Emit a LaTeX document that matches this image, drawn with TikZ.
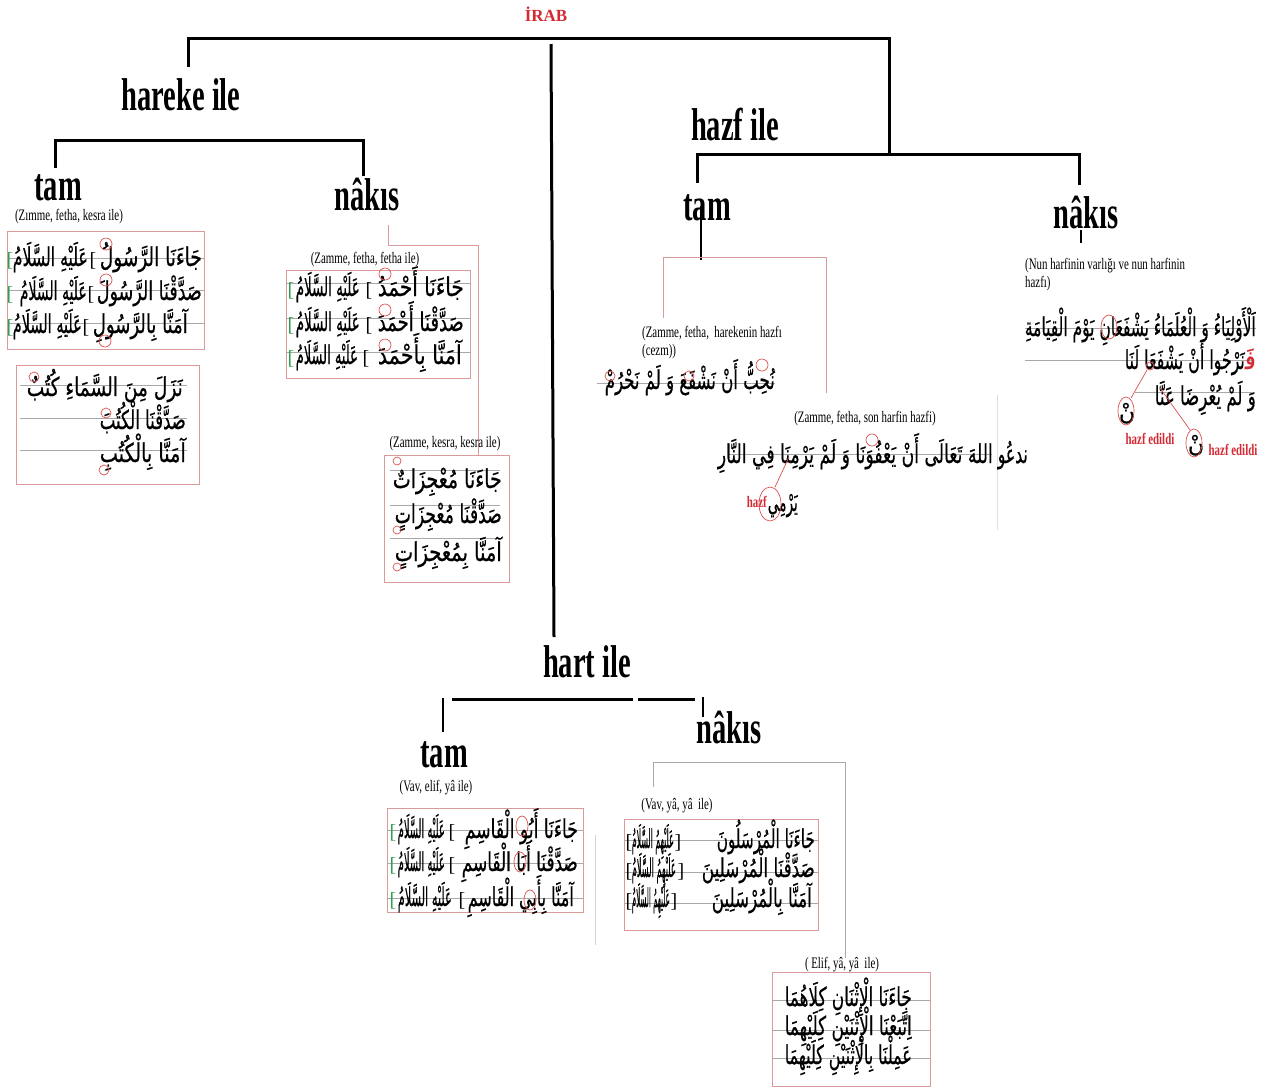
\documentclass[tikz,border=0pt]{standalone}
\usepackage{fontspec}
\usepackage{graphicx}
\TeXXeTstate=1
\setmainfont{Liberation Serif}
\newfontfamily\arabicfont[Script=Arabic, FakeBold=0.6]{DejaVu Sans}
\newfontfamily\condf[FakeStretch=0.68]{Liberation Serif}
\newfontfamily\headf[FakeStretch=0.62]{Liberation Serif}
\definecolor{boxred}{HTML}{DB9A9A}
\definecolor{rulegray}{HTML}{A8A8A8}
\definecolor{brgreen}{HTML}{2E9E4F}
\definecolor{redtxt}{HTML}{D42A34}
\definecolor{circred}{HTML}{D9534F}
\newcommand\arw[2]{\resizebox{#1pt}{\height}{\arabicfont\fontsize{26}{30}\selectfont #2}}
\tikzset{
 tree/.style={line width=3pt, black},
 thinbar/.style={line width=1.8pt, black},
 head/.style={font=\headf\bfseries\fontsize{46}{50}\selectfont, inner sep=0, anchor=base},
 lab/.style={font=\condf\fontsize{16}{18}\selectfont, inner sep=0, anchor=base},
 labl/.style={lab, anchor=base west},
 box/.style={draw=boxred, line width=0.9pt},
 conn/.style={draw=boxred, line width=0.9pt},
 rule/.style={draw=rulegray, line width=0.8pt},
 arn/.style={inner sep=0, anchor=base east},
 brk/.style={inner sep=0, anchor=base, font=\fontsize{20}{22}\selectfont},
 gbrk/.style={brk, text=brgreen},
 circ/.style={draw=circred, line width=0.7pt},
 redlab/.style={font=\condf\bfseries\fontsize{16}{18}\selectfont, text=redtxt, inner sep=0, anchor=base},
}
\begin{document}
\begin{tikzpicture}[x=1pt,y=-1pt]
\useasboundingbox (0,0) rectangle (1269,1088);
\fill[white] (0,0) rectangle (1269,1088);

% ---------- title and tree ----------
\node[font=\bfseries\fontsize{17}{19}\selectfont, text=redtxt, inner sep=0, anchor=base] (irab) at (546,21) {İRAB};
\coordinate (jTL) at (188,38); \coordinate (jTR) at (889,38);
\draw[tree] (188,67) -- (jTL) -- (jTR) -- (889,155);
\draw[tree] (551,44) -- (554,637);

\node[head] (hareke) at (181,110) {hareke ile};
\draw[tree] (55,168) -- (55,140) -- (363,140) -- (363,176);
\node[head] (tamA) at (58,200) {tam};
\node[head] (nakA) at (367,210) {nâkıs};

\node[head] (hazf) at (735,140) {hazf ile};
\draw[tree] (697,183) -- (697,154) -- (1079,154) -- (1079,185);
\node[head] (tamB) at (707,220) {tam};
\draw[line width=2.4pt] (701,206) -- (701,260);
\node[head] (nakB) at (1086,228) {nâkıs};
\draw[line width=1.4pt] (1081,230) -- (1081,243);

\node[head] (hart) at (587,677) {hart ile};
\draw[tree] (452,699) -- (633,699);
\draw[tree] (638,699) -- (695,699);
\draw[thinbar] (443,698) -- (443,732);
\draw[thinbar] (703,697) -- (703,717);
\node[head] (tamC) at (444,767) {tam};
\node[head] (nakC) at (729,743) {nâkıs};

% ---------- connectors to boxes ----------
\draw[conn] (388,225) -- (388,245) -- (478,245) -- (478,455);
\draw[conn] (663,318) -- (663,257) -- (826,257) -- (826,393);
\draw[rule] (653,787) -- (653,762) -- (845,762) -- (845,958);
\draw[gray!25, line width=0.6pt] (997,395) -- (997,530);
\draw[gray!35, line width=0.6pt] (595,835) -- (595,945);

% ---------- labels ----------
\node[lab] (lA) at (69,220) {(Zımme, fetha, kesra ile)};
\node[lab] (lC) at (365,263) {(Zamme, fetha, fetha ile)};
\node[lab] (lD) at (445,447) {(Zamme, kesra, kesra ile)};
\node[labl] (lH1) at (642,337) {(Zamme, fetha,\ \ harekenin hazfı};
\node[labl] (lH2) at (642,355) {(cezm))};
\node[lab] (lH3) at (865,422) {(Zamme, fetha, son harfin hazfi)};
\node[labl] (lN1) at (1025,269) {(Nun harfinin varlığı ve nun harfinin};
\node[labl] (lN2) at (1025,287) {hazfı)};
\node[lab] (lE) at (436,791) {(Vav, elif, yâ ile)};
\node[lab] (lF) at (677,809) {(Vav, yâ, yâ\ \ ile)};
\node[lab] (lG) at (842,968) {(\,Elif, yâ, yâ\ \ ile)};

% ---------- boxes ----------
\draw[box] (7,231) rectangle (204,349);
\draw[box] (16,365) rectangle (199,484);
\draw[box] (286,270) rectangle (470,378);
\draw[box] (384,455) rectangle (509,582);
\draw[box] (387,808) rectangle (583,912);
\draw[box] (624,819) rectangle (818,930);
\draw[box] (772,972) rectangle (930,1086);

% ---------- rules ----------
\foreach \y in {258,290,323} \draw[rule] (7,\y) -- (204,\y);
\foreach \y in {385,418,450} \draw[rule] (20,\y) -- (187,\y);
\foreach \y in {283,318,352} \draw[rule] (286,\y) -- (470,\y);
\foreach \y in {470,505,538} \draw[rule] (390,\y) -- (500,\y);
\draw[rule] (597,383) -- (775,383);
\draw[rule] (728,454) -- (992,454);
\draw[rule] (1025,328) -- (1256,328);
\draw[rule] (1025,360) -- (1252,360);
\draw[rule] (1135,392) -- (1252,392);
\foreach \y in {830,863,898} \draw[rule] (387,\y) -- (583,\y);
\foreach \y in {840,872,903} \draw[rule] (624,\y) -- (818,\y);
\foreach \y in {1000,1030,1058} \draw[rule] (772,\y) -- (930,\y);

% ---------- box A ----------
\node[arn] (a1m) at (202,266) {\arw{102}{\beginR جَاءَنَا الرَّسُولُ\endR}};
\node[brk] (a1b) at (93,266) {[};
\node[arn] (a1s) at (88,266) {\arw{75}{\beginR عَلَيْهِ السَّلَامُ\endR}};
\node[gbrk] (a1g) at (10,266) {[};
\node[arn] (a2m) at (202,300) {\arw{105}{\beginR صَدَّقْنَا الرَّسُولَ\endR}};
\node[brk] (a2b) at (91,300) {[};
\node[arn] (a2s) at (87,300) {\arw{67}{\beginR عَلَيْهِ السَّلَامُ\endR}};
\node[gbrk] (a2g) at (10,300) {[};
\node[arn] (a3m) at (188,333) {\arw{95}{\beginR آمَنَّا بِالرَّسُولِ\endR}};
\node[brk] (a3b) at (86,333) {[};
\node[arn] (a3s) at (82,333) {\arw{69}{\beginR عَلَيْهِ السَّلَامُ\endR}};
\node[gbrk] (a3g) at (10,333) {[};
\draw[circ] (106,244) circle (6pt);
\draw[circ] (106,280) circle (6pt);
\draw[circ] (105,341) circle (6pt);

% ---------- box B ----------
\node[arn] (b1) at (183,396) {\arw{156}{\beginR نَزَلَ مِنَ السَّمَاءِ كُتُبٌ\endR}};
\node[arn] (b2) at (186,429) {\arw{86}{\beginR صَدَّقْنَا الْكُتُبَ\endR}};
\node[arn] (b3) at (186,462) {\arw{86}{\beginR آمَنَّا بِالْكُتُبِ\endR}};
\draw[circ] (34,377) circle (5pt);
\draw[circ] (106,413) circle (5pt);
\draw[circ] (104,470) circle (5pt);

% ---------- box C ----------
\node[arn] (c1m) at (464,296) {\arw{86}{\beginR جَاءَنَا أَحْمَدُ\endR}};
\node[brk] (c1b) at (369,296) {[};
\node[arn] (c1s) at (360,296) {\arw{64}{\beginR عَلَيْهِ السَّلَامُ\endR}};
\node[gbrk] (c1g) at (291,296) {[};
\node[arn] (c2m) at (464,331) {\arw{86}{\beginR صَدَّقْنَا أَحْمَدَ\endR}};
\node[brk] (c2b) at (369,331) {[};
\node[arn] (c2s) at (360,331) {\arw{64}{\beginR عَلَيْهِ السَّلَامُ\endR}};
\node[gbrk] (c2g) at (291,331) {[};
\node[arn] (c3m) at (462,364) {\arw{84}{\beginR آمَنَّا بِأَحْمَدَ\endR}};
\node[brk] (c3b) at (366,364) {[};
\node[arn] (c3s) at (358,364) {\arw{62}{\beginR عَلَيْهِ السَّلَامُ\endR}};
\node[gbrk] (c3g) at (291,364) {[};
\draw[circ] (385,274) circle (6pt);
\draw[circ] (385,310) circle (6pt);
\draw[circ] (385,345) circle (6pt);

% ---------- box D ----------
\node[arn] (d1) at (502,488) {\arw{109}{\beginR جَاءَنَا مُعْجِزَاتٌ\endR}};
\node[arn] (d2) at (502,523) {\arw{107}{\beginR صَدَّقْنَا مُعْجِزَاتٍ\endR}};
\node[arn] (d3) at (502,561) {\arw{107}{\beginR آمَنَّا بِمُعْجِزَاتٍ\endR}};
\draw[circ] (397,461) circle (4pt);
\draw[circ] (397,530) circle (4pt);
\draw[circ] (397,567) circle (4pt);

% ---------- hazf ile / tam ----------
\node[arn] (h1) at (775,389) {\arw{170}{\beginR نُحِبُّ أَنْ نَشْفَعَ وَ لَمْ نَحْرُمْ\endR}};
\draw[circ] (610,376) circle (5pt);
\draw[circ] (689,376) circle (5pt);
\draw[circ] (762,365) circle (6pt);
\node[arn] (h2) at (993,463) {\arw{275}{\beginR اللهَ تَعَالَى أَنْ يَعْفُوَنَا وَ لَمْ يَرْمِنَا فِي النَّارِ\endR}};
\node[arn] (h2a) at (1028,463) {\arw{30}{ندعُو}};
\draw[circ] (872,440) circle (6pt);
\node[arn] (h3) at (798,511) {\arw{30}{يَرْمِي}};
\node[redlab, anchor=base east] (hz) at (767,507) {hazf};
\draw[circ] (770,504) ellipse (11pt and 17pt);
\draw[circ] (775,487) -- (789,457);

% ---------- hazf ile / nakis ----------
\node[arn] (n1) at (1256,336) {\arw{231}{\beginR اَلْأَوْلِيَاءُ وَ الْعُلَمَاءُ يَشْفَعَانِ يَوْمَ الْقِيَامَةِ\endR}};
\node[arn, text=redtxt] (n2f) at (1256,369) {\arw{11}{فَ‍}};
\node[arn] (n2) at (1245,369) {\arw{120}{\beginR نَرْجُوا أَنْ يَشْفَعَا لَنَا\endR}};
\node[arn] (n3) at (1256,405) {\arw{101}{\beginR وَ لَمْ يُعْرِضَا عَنَّا\endR}};
\node[inner sep=0, anchor=base, font=\arabicfont\fontsize{22}{26}\selectfont] (nun1) at (1127,420) {نْ};
\node[inner sep=0, anchor=base, font=\arabicfont\fontsize{22}{26}\selectfont] (nun2) at (1196,452) {نْ};
\draw[circ] (1109,327) ellipse (8pt and 12pt);
\draw[circ] (1126,411) ellipse (8pt and 14pt);
\draw[circ] (1194,443) ellipse (8pt and 14pt);
\draw[circ] (1150,366) circle (4pt);
\draw[circ] (1147,370) -- (1131,398);
\draw[circ] (1160,388) -- (1190,430);
\node[redlab] (he1) at (1150,444) {hazf edildi};
\node[redlab] (he2) at (1233,455) {hazf edildi};

% ---------- box E ----------
\node[arn] (e1m) at (578,838) {\arw{113}{\beginR جَاءَنَا أَبُو الْقَاسِمِ\endR}};
\node[brk] (e1b) at (452,838) {[};
\node[arn] (e1s) at (445,838) {\arw{47}{\beginR عَلَيْهِ السَّلَامُ\endR}};
\node[gbrk] (e1g) at (393,838) {[};
\node[arn] (e2m) at (578,871) {\arw{116}{\beginR صَدَّقْنَا أَبَا الْقَاسِمِ\endR}};
\node[brk] (e2b) at (452,871) {[};
\node[arn] (e2s) at (445,871) {\arw{47}{\beginR عَلَيْهِ السَّلَامُ\endR}};
\node[gbrk] (e2g) at (393,871) {[};
\node[arn] (e3m) at (574,906) {\arw{106}{\beginR آمَنَّا بِأَبِي الْقَاسِمِ\endR}};
\node[brk] (e3b) at (462,906) {[};
\node[arn] (e3s) at (452,906) {\arw{54}{\beginR عَلَيْهِ السَّلَامُ\endR}};
\node[gbrk] (e3g) at (393,906) {[};
\draw[circ] (522,826) ellipse (6pt and 10pt);
\draw[circ] (520,862) ellipse (6pt and 10pt);
\draw[circ] (530,900) ellipse (6pt and 10pt);

% ---------- box F ----------
\node[arn] (f1m) at (815,848) {\arw{98}{\beginR جَاءَنَا الْمُرْسَلُونَ\endR}};
\node[brk] (f1r) at (678,848) {]};
\node[arn] (f1s) at (674,848) {\arw{42}{\beginR عَلَيْهِمُ السَّلَامُ\endR}};
\node[brk] (f1l) at (629,848) {[};
\node[arn] (f2m) at (815,877) {\arw{113}{\beginR صَدَّقْنَا الْمُرْسَلِينَ\endR}};
\node[brk] (f2r) at (681,877) {]};
\node[arn] (f2s) at (676,877) {\arw{44}{\beginR عَلَيْهِمُ السَّلَامُ\endR}};
\node[brk] (f2l) at (629,877) {[};
\node[arn] (f3m) at (812,907) {\arw{100}{\beginR آمَنَّا بِالْمُرْسَلِينَ\endR}};
\node[brk] (f3r) at (674,907) {]};
\node[arn] (f3s) at (670,907) {\arw{38}{\beginR عَلَيْهِمُ السَّلَامُ\endR}};
\node[brk] (f3l) at (629,907) {[};

% ---------- box G ----------
\node[arn] (g1) at (912,1006) {\arw{127}{\beginR جَاءَنَا الْإِثْنَانِ كِلَاهُمَا\endR}};
\node[arn] (g2) at (912,1035) {\arw{127}{\beginR اِتَّبَعْنَا الْإِثْنَيْنِ كِلَيْهِمَا\endR}};
\node[arn] (g3) at (912,1064) {\arw{127}{\beginR عَمِلْنَا بِالْإِثْنَيْنِ كِلَيْهِمَا\endR}};
\end{tikzpicture}
\end{document}
